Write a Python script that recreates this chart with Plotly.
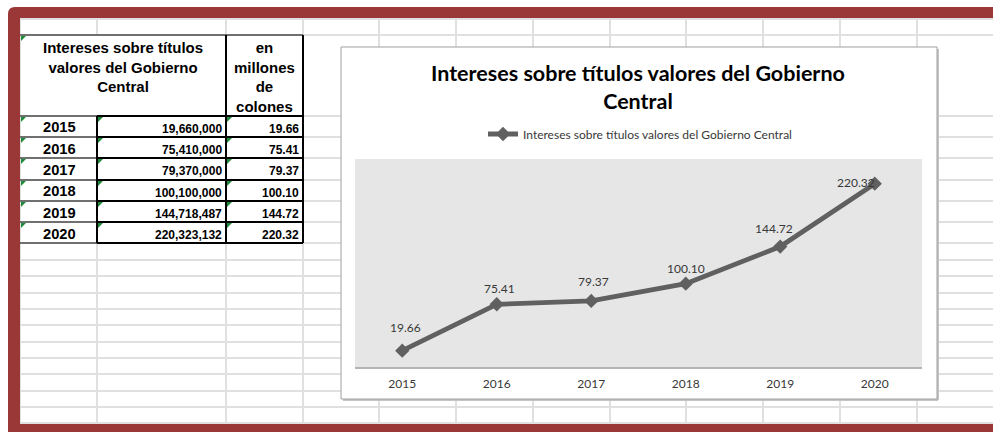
import plotly.graph_objects as go

# ---------------- data ----------------
YEARS = ["2015", "2016", "2017", "2018", "2019", "2020"]
VALUES_COLONES = [19660000, 75410000, 79370000, 100100000, 144718487, 220323132]
VALUES_MILLONES = [19.66, 75.41, 79.37, 100.10, 144.72, 220.32]
SERIES_NAME = "Intereses sobre títulos valores del Gobierno Central"
CHART_TITLE = "Intereses sobre títulos valores del Gobierno<br>Central"
TABLE_HEADER_A = "Intereses sobre títulos<br>valores del Gobierno<br>Central"
TABLE_HEADER_C = "en<br>millones<br>de<br>colones"

# ---------------- layout constants (pixels) ----------------
W, H = 993, 432
COL_X = [20, 97, 226, 303, 379, 456, 533, 610, 686, 763, 840, 917]
ROW_Y = [19, 35, 116, 137, 158, 180, 201, 222, 243, 260, 276, 293, 309, 325,
         342, 358, 374, 391, 407, 423]
TABLE_ROWS_Y = [116, 137, 158, 180, 201, 222, 243]
CHART_BOX = (341, 47, 937, 399)
PLOT_BOX = (355, 159, 922, 367)
LABEL_DX = [3, 3, 2, 0, -6, -19]
LABEL_DY = [-23, -16, -19, -15, -18, -1]

RED = "#9A3737"
GRID = "#E0E0E0"
GREEN = "#1F8A3A"
LINE = "#606060"
TXT = "#383838"


def px(x):
    return x / W


def py(y):
    return 1 - y / H


shapes = []


def line(x0, y0, x1, y1, color, width):
    shapes.append(dict(type="line", xref="paper", yref="paper", layer="below",
                       x0=px(x0), y0=py(y0), x1=px(x1), y1=py(y1),
                       line=dict(color=color, width=width)))


def rect(x0, y0, x1, y1, fill, color=None, width=0):
    shapes.append(dict(type="rect", xref="paper", yref="paper", layer="below",
                       x0=px(x0), y0=py(y0), x1=px(x1), y1=py(y1),
                       fillcolor=fill,
                       line=dict(color=color or fill, width=width)))


def path(points, fill):
    d = ""
    for i, p in enumerate(points):
        if p[0] == "Q":
            d += " Q %f,%f %f,%f" % (px(p[1]), py(p[2]), px(p[3]), py(p[4]))
        else:
            d += (" M" if i == 0 else " L") + " %f,%f" % (px(p[0]), py(p[1]))
    d += " Z"
    shapes.append(dict(type="path", xref="paper", yref="paper", layer="below",
                       path=d, fillcolor=fill, line=dict(width=0)))


# spreadsheet gridlines
for x in COL_X:
    if x == 97:
        line(x, 19, x, 35, GRID, 2)
        line(x, 116, x, 424, GRID, 2)
    else:
        line(x, 19, x, 424, GRID, 2)
for y in ROW_Y:
    line(20, y, W, y, GRID, 2)

# table borders
line(20, 35, 303, 35, "black", 1)
for y in TABLE_ROWS_Y:
    line(20, y, 97, y, "black", 1)
    line(97, y, 303, y, "black", 2)
line(97, 116, 97, 243, "black", 2)
line(226, 35, 226, 243, "black", 2)
line(303, 35, 303, 243, "black", 2)

# green error-indicator triangles
tri_cells = [(21, 36)]
for y in TABLE_ROWS_Y[:-1]:
    for x in (21, 98, 227):
        tri_cells.append((x, y + 1))
for (x, y) in tri_cells:
    path([(x, y), (x + 5, y), (x, y + 5)], GREEN)

# red frame
path([(8, 432), (8, 14), ("Q", 8, 7, 15, 7), (W, 7), (W, 18), (20, 18),
      (20, 424), (W, 424), (W, 432)], RED)

# chart box with shadow
cx0, cy0, cx1, cy1 = CHART_BOX
line(cx1 + 1, cy0 + 2, cx1 + 1, cy1 + 1, "#C4C4C4", 2)
line(cx0 + 2, cy1 + 1, cx1 + 1, cy1 + 1, "#C4C4C4", 2)
rect(cx0, cy0, cx1, cy1, "white", "#A0A0A0", 1)
# plot area
pxa, pya, pxb, pyb = PLOT_BOX
rect(pxa, pya, pxb, pyb, "#E6E6E6")

# ---------------- annotations ----------------
annotations = []
ARIAL = "Liberation Sans"


def ann(text, x, y, size, xanchor="center", color="black", family=ARIAL, bold=True):
    annotations.append(dict(text=("<b>%s</b>" % text) if bold else text,
                            x=px(x), y=py(y), xref="paper", yref="paper",
                            xanchor=xanchor, yanchor="middle", showarrow=False,
                            align="center",
                            font=dict(family=family, size=size, color=color)))


ann(TABLE_HEADER_A, 123, 67, 15)
ann(TABLE_HEADER_C, 264.5, 77, 15)
for i, yr in enumerate(YEARS):
    yc = (TABLE_ROWS_Y[i] + TABLE_ROWS_Y[i + 1]) / 2 + 1
    ann(yr, 59, yc, 14.7)
    ann(f"{VALUES_COLONES[i]:,}", 224, yc + 1, 12, xanchor="right")
    ann(f"{VALUES_MILLONES[i]:.2f}", 301, yc + 1, 12, xanchor="right")

# chart title
annotations.append(dict(text="<b>%s</b>" % CHART_TITLE, x=px(638), y=py(87),
                        xref="paper", yref="paper", xanchor="center",
                        yanchor="middle", showarrow=False, align="center",
                        font=dict(family="Lato", size=21.5, color="black")))

# data labels (category index positions on the x axis)
for i, v in enumerate(VALUES_MILLONES):
    annotations.append(dict(text=f"{v:.2f}", x=i, y=v, xref="x", yref="y",
                            showarrow=False, xshift=LABEL_DX[i],
                            yshift=-LABEL_DY[i],
                            font=dict(family="Lato", size=12, color=TXT)))

fig = go.Figure()
fig.add_trace(go.Scatter(
    x=YEARS, y=VALUES_MILLONES, name=SERIES_NAME, mode="lines+markers",
    line=dict(color=LINE, width=4.8),
    marker=dict(symbol="diamond", size=11, color=LINE),
    showlegend=True, hoverinfo="skip"))

fig.update_layout(
    width=W, height=H,
    margin=dict(l=0, r=0, t=0, b=0),
    paper_bgcolor="white",
    plot_bgcolor="rgba(0,0,0,0)",
    shapes=shapes,
    annotations=annotations,
    showlegend=True,
    legend=dict(orientation="h", x=px(483), y=py(134), xanchor="left",
                yanchor="middle", bgcolor="rgba(0,0,0,0)", itemwidth=30,
                font=dict(family="Lato", size=12, color=TXT)),
    xaxis=dict(type="category", domain=[px(pxa), px(pxb)], range=[-0.5, 5.5],
               showline=True, linecolor="#B4B4B4", linewidth=1.5,
               showgrid=False, zeroline=False, ticks="",
               tickfont=dict(family="Lato", size=12, color=TXT),
               ticklabelstandoff=5, fixedrange=True),
    yaxis=dict(domain=[py(pyb), py(pya)], range=[0, 250], visible=False,
               fixedrange=True),
)

fig.write_html("out.html",
               config={"displayModeBar": False},
               post_script="document.body.style.margin='0';"
                           "document.body.style.overflow='hidden';")
